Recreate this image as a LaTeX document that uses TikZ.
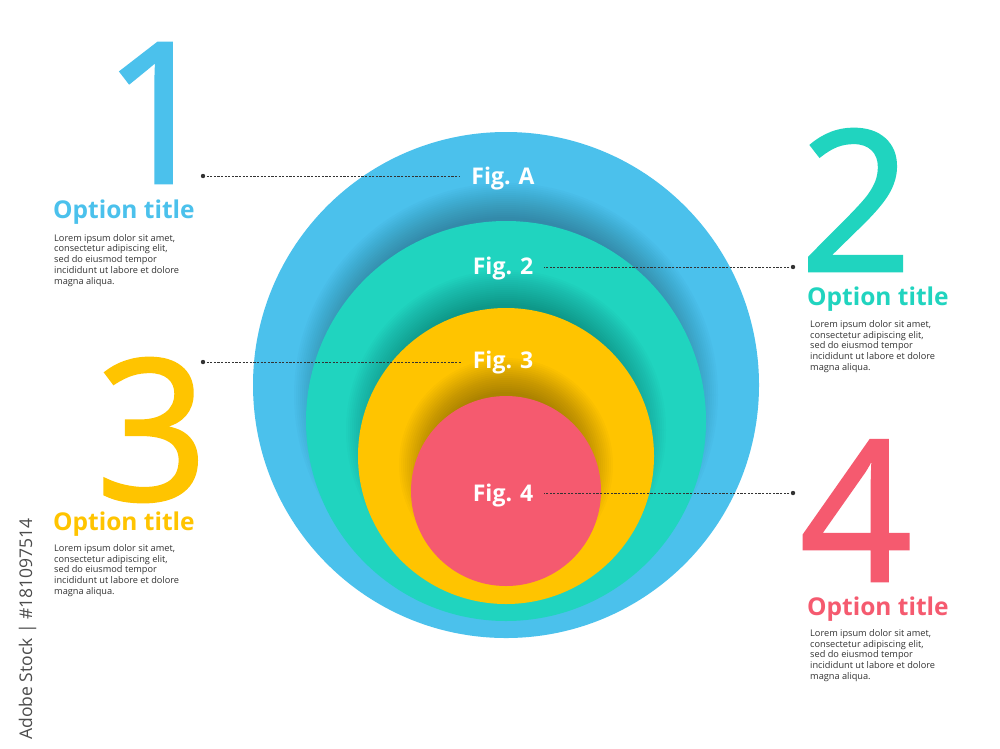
\documentclass[tikz,border=0pt]{standalone}
\usepackage{fontspec}
\setmainfont{Open Sans}
\newfontfamily\numfont{Open Sans}[FakeBold=1.5]
\definecolor{optblue}{HTML}{4BC1EC}
\definecolor{optteal}{HTML}{20D4BF}
\definecolor{optyellow}{HTML}{FFC400}
\definecolor{optred}{HTML}{F55A6F}
\definecolor{bodygray}{HTML}{333333}
\newcommand{\loremtext}{Lorem ipsum dolor sit amet,\\ consectetur adipiscing elit,\\ sed do eiusmod tempor\\ incididunt ut labore et dolore\\ magna aliqua.}
\tikzset{
  bignum/.style={font=\numfont\fontsize{196}{196}\selectfont, anchor=base, inner sep=0pt, text depth=0pt},
  opttitle/.style={font=\fontsize{24.5}{26}\bfseries\selectfont, anchor=base west, inner sep=0pt},
  optbody/.style={font=\fontsize{9.2}{10.8}\selectfont, text=bodygray, align=left, anchor=north west, inner sep=0pt},
  figlabel/.style={font=\fontsize{23}{25}\bfseries\selectfont, text=white, anchor=base, inner sep=0pt},
  leader/.style={bodygray, line width=0.8pt, dash pattern=on 2.2pt off 1.4pt, shorten >=11pt},
  leaderdot/.style={fill=bodygray},
  softshade/.style={black, opacity=0.017},
}
\begin{document}
\begin{tikzpicture}[x=1pt, y=-1pt]
	\useasboundingbox[fill=white] (0,0) rectangle (1000,748);
	% circle centres
	\coordinate (cblue) at (506,385);
	\coordinate (cteal) at (506,421);
	\coordinate (cyellow) at (506,456);
	\coordinate (cred) at (506,491);
	% circles with soft shadows above the inner ones
	\fill[optblue] (cblue) circle (253pt);
	\begin{scope}
	    \clip (cblue) circle (253pt);
	    \foreach \k in {-22,-20,...,12}
	        \fill[softshade] ([yshift=26pt]cteal) circle ({200+\k});
	\end{scope}
	\fill[optteal] (cteal) circle (200pt);
	\begin{scope}
	    \clip (cteal) circle (200pt);
	    \foreach \k in {-22,-20,...,12}
	        \fill[softshade] ([yshift=26pt]cyellow) circle ({148+\k});
	\end{scope}
	\fill[optyellow] (cyellow) circle (148pt);
	\begin{scope}
	    \clip (cyellow) circle (148pt);
	    \foreach \k in {-22,-20,...,12}
	        \fill[softshade, opacity=0.021] ([yshift=26pt]cred) circle ({95+\k});
	\end{scope}
	\fill[optred] (cred) circle (95pt);
	% labels on the circles
	\node[figlabel] (figA) at (503,184) {Fig. A};
	\node[figlabel] (fig2) at (503,274) {Fig. 2};
	\node[figlabel] (fig3) at (503,368) {Fig. 3};
	\node[figlabel] (fig4) at (503,501) {Fig. 4};
	% leaders
	\coordinate (dotA) at (203,176);
	\coordinate (dot2) at (793,267);
	\coordinate (dot3) at (203,362);
	\coordinate (dot4) at (793,493);
	\foreach \d in {dotA,dot2,dot3,dot4}
	    \fill[leaderdot] (\d) circle (2.2pt);
	\draw[leader] (dotA) -- (figA.west |- dotA);
	\draw[leader] (dot2) -- (fig2.east |- dot2);
	\draw[leader] (dot3) -- (fig3.west |- dot3);
	\draw[leader] (dot4) -- (fig4.east |- dot4);
	% option 1
	\node[bignum, text=optblue] (num1) at (159,183) {1};
	\node[opttitle, text=optblue] (title1) at (53,218) {Option title};
	\node[optbody] (body1) at (54,234) {\loremtext};
	% option 2
	\node[bignum, text=optteal] (num2) at (856,271) {2};
	\node[opttitle, text=optteal] (title2) at (807,305) {Option title};
	\node[optbody] (body2) at (810,320) {\loremtext};
	% option 3
	\node[bignum, text=optyellow] (num3) at (152,500) {3};
	\node[opttitle, text=optyellow] (title3) at (53,530) {Option title};
	\node[optbody] (body3) at (54,544) {\loremtext};
	% option 4
	\node[bignum, text=optred] (num4) at (856,581) {4};
	\node[opttitle, text=optred] (title4) at (807,615) {Option title};
	\node[optbody] (body4) at (810,629) {\loremtext};
	% stock mark
	\node[rotate=90, anchor=base east, inner sep=0pt, font=\fontsize{17.5}{18}\selectfont, text=black!70] (stockmark) at (32,518) {Adobe Stock | \#181097514};
\end{tikzpicture}
\end{document}
